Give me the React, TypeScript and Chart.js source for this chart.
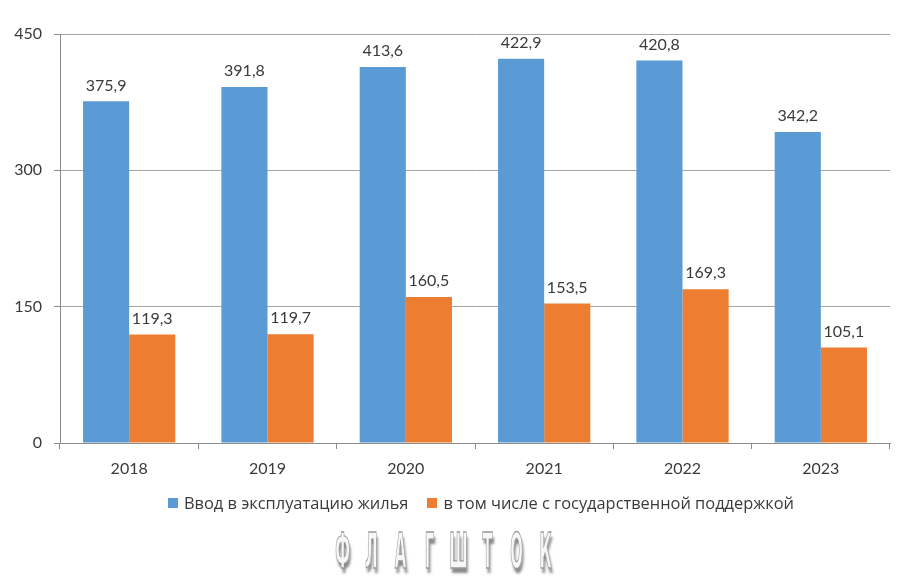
import React, { useEffect, useRef } from "react";
import { Chart, registerables } from "chart.js";

Chart.register(...registerables);

const categories = ["2018", "2019", "2020", "2021", "2022", "2023"];
const housingTotal = [375.9, 391.8, 413.6, 422.9, 420.8, 342.2];
const stateSupported = [119.3, 119.7, 160.5, 153.5, 169.3, 105.1];
const seriesNames = ["Ввод в эксплуатацию жилья", "в том числе с государственной поддержкой"];
const seriesColors = ["#5B9BD5", "#ED7D31"];
const yTicks = [0, 150, 300, 450];
const watermark = "ФЛАГШТОК";

const FONT = "Lato, 'Open Sans', sans-serif";
const TEXT = "#3a3a3a";

const valueLabels = {
  id: "valueLabels",
  afterDatasetsDraw(chart: any) {
    const ctx = chart.ctx;
    ctx.save();
    ctx.font = `16px ${FONT}`;
    ctx.fillStyle = TEXT;
    ctx.textAlign = "center";
    ctx.textBaseline = "bottom";
    chart.data.datasets.forEach((ds: any, i: number) => {
      const meta = chart.getDatasetMeta(i);
      meta.data.forEach((el: any, j: number) => {
        const v = ds.data[j] as number;
        ctx.fillText(v.toFixed(1).replace(".", ","), el.x, el.y - 8);
      });
    });
    ctx.restore();
  },
};

export default function App() {
  const ref = useRef<HTMLCanvasElement | null>(null);

  useEffect(() => {
    document.body.style.margin = "0";
    const canvas = ref.current;
    if (!canvas) return;
    const chart = new Chart(canvas, {
      type: "bar",
      data: {
        labels: categories,
        datasets: [
          { label: seriesNames[0], data: housingTotal, backgroundColor: seriesColors[0], categoryPercentage: 0.667, barPercentage: 1.0 },
          { label: seriesNames[1], data: stateSupported, backgroundColor: seriesColors[1], categoryPercentage: 0.667, barPercentage: 1.0 },
        ],
      },
      options: {
        animation: false,
        responsive: false,
        devicePixelRatio: 1,
        layout: { padding: { left: 0, right: 10, top: 34, bottom: 0 } },
        plugins: {
          legend: { display: false },
          tooltip: { enabled: false },
        },
        scales: {
          x: {
            offset: true,
            grid: { drawOnChartArea: false, drawTicks: true, tickLength: 6, color: "#8c8c8c", offset: true },
            border: { color: "#8c8c8c", width: 1 },
            ticks: { color: TEXT, font: { family: FONT, size: 16 }, padding: 10 },
            afterFit: (s: any) => { s.height = 586 - 443; },
          },
          y: {
            min: 0,
            max: 450,
            afterBuildTicks: (s: any) => { s.ticks = yTicks.map((v) => ({ value: v })); },
            grid: { color: "#a6a6a6", tickColor: "#8c8c8c", tickLength: 6, drawTicks: true },
            border: { color: "#8c8c8c", width: 1 },
            ticks: { color: TEXT, font: { family: FONT, size: 16 }, padding: 12 },
            afterFit: (s: any) => { s.width = 60; },
          },
        },
      },
      plugins: [valueLabels],
    });
    return () => chart.destroy();
  }, []);

  return (
    <div style={{ position: "relative", width: 900, height: 586, background: "#fff", overflow: "hidden" }}>
      <canvas ref={ref} width={900} height={586} style={{ position: "absolute", left: 0, top: 0, width: 900, height: 586 }} />
      <div style={{ position: "absolute", left: 0, width: 962, top: 491, display: "flex", justifyContent: "center", alignItems: "center", fontFamily: "'Open Sans', sans-serif", fontSize: 16.4, color: TEXT, whiteSpace: "nowrap" }}>
        {seriesNames.map((n, i) => (
          <div key={n} style={{ display: "flex", alignItems: "center", marginLeft: i ? 19 : 0 }}>
            <span style={{ display: "inline-block", width: 10, height: 10, background: seriesColors[i], marginRight: 6 }} />
            <span>{n}</span>
          </div>
        ))}
      </div>
      <div style={{ position: "absolute", left: 328, top: 530, display: "flex" }}>
        {watermark.split("").map((ch, i) => (
          <span key={i} style={{ display: "inline-block", width: 29, textAlign: "center", fontFamily: "'DejaVu Sans Condensed', 'DejaVu Sans', sans-serif", fontWeight: "bold", fontSize: 22, lineHeight: "20px", color: "#f7f7f7", WebkitTextStroke: "0.6px #9a9a9a", textShadow: "2px 2px 2px #8a8a8a", transform: "scale(0.75, 2.25)", transformOrigin: "center top" }}>{ch}</span>
        ))}
      </div>
    </div>
  );
}
